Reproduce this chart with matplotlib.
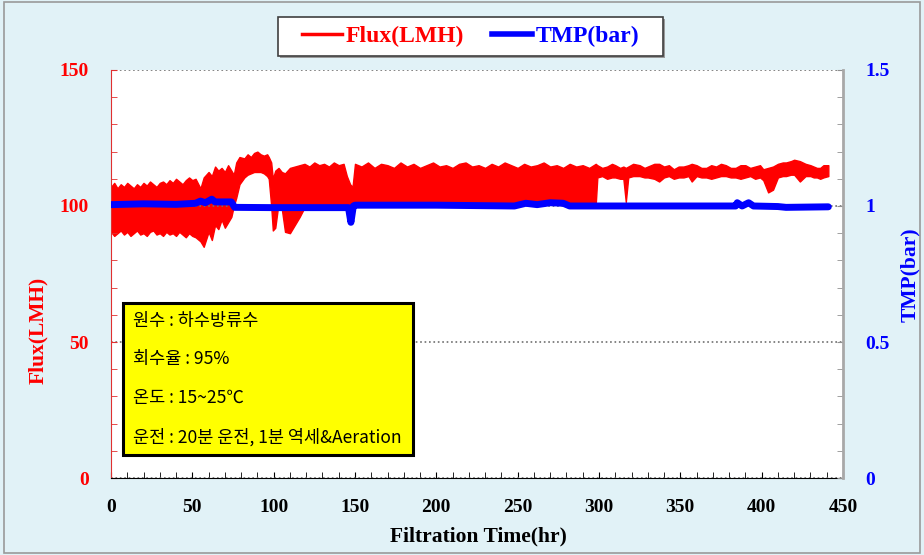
import matplotlib.pyplot as plt
from matplotlib.patches import Rectangle
from matplotlib.lines import Line2D
from matplotlib.ticker import MultipleLocator, FuncFormatter

# flux band (LMH): time, upper edge, lower edge
flux_t = ([0, 2, 4, 6, 8, 10, 12, 14, 16, 18, 20, 22, 24, 26, 28, 30, 32, 34, 36, 38, 40,
           42, 44, 46, 48, 50, 52]
          + [55, 57, 60, 62, 64, 66, 68, 70, 72, 74, 75.5]
          + [77, 79, 82, 84, 86, 88, 90, 92, 94, 96, 97, 98.5, 99.5, 101, 103, 105, 107, 110]
          + [113, 116, 119, 122, 125, 128, 131, 134, 137, 140, 143, 145, 147, 148.5]
          + [150, 154, 158, 162, 166, 170, 174, 178, 182, 186, 190, 194, 198, 202, 206, 210,
             214, 218, 222, 226, 230, 234, 238, 242, 246, 250, 254, 258, 262, 266, 270, 274,
             278, 282, 286, 290, 294, 298]
          + [299, 302, 305, 308, 310, 313, 315, 316.5, 318, 321, 325, 328, 330, 334, 337, 340,
             343, 346, 349, 352, 355, 357, 360, 363, 366, 369, 372, 375, 378, 381, 384, 387,
             390, 393, 396, 399, 401, 404, 407, 410, 413, 415, 418, 420, 423.5, 427, 430, 432,
             434, 436, 438, 441])
flux_hi = ([107, 108.5, 106.5, 108, 107, 108.5, 107.5, 106.5, 108, 107, 108.5, 107.5, 109,
            108, 107, 108.5, 109, 108, 109.5, 108.5, 110, 109, 108, 109.5, 110.5, 109.5, 110]
           + [106.5, 110.5, 112.5, 111, 114.5, 113, 114, 112.5, 115, 113, 111.5]
           + [116, 118, 117.5, 119, 118, 119.5, 120, 119, 118.5, 119, 118, 116, 110, 113, 114,
              112.5, 112, 114]
           + [114.5, 115, 115.5, 114.5, 116, 115, 115.5, 114.5, 116, 115, 115.5, 111, 108, 107]
           + [115.5, 114.5, 116, 114, 115.5, 115, 114, 116, 114.5, 115.5, 114, 115, 116, 114.5,
              115, 114, 115.5, 116, 114.5, 115, 114, 115.5, 114.5, 116, 115, 114, 115.5, 114.5,
              115, 116, 114.5, 115, 114, 115.5, 114.5, 115, 114, 115.5]
           + [115, 114, 114.5, 115.5, 115, 114, 114.5, 114, 114.5, 115.5, 115, 114, 114.5,
              115.5, 115.5, 114.5, 115, 113.5, 114.5, 114.5, 115, 115.5, 115, 114, 114, 115,
              114.5, 115.5, 115, 114, 114, 115, 115, 114, 114.5, 115, 113.5, 114, 114.5, 115.5,
              116, 116, 116.5, 117, 116.5, 115.5, 115, 114.5, 114, 114, 115, 115])
flux_lo = ([90.5, 89, 90, 91, 89.5, 90.5, 89, 90, 91, 89.5, 90, 89, 90.5, 91, 89.5, 90, 89,
            90.5, 89.5, 90, 89, 90.5, 89.5, 88.5, 90, 89, 88.5]
           + [87, 85, 90.5, 87.5, 93, 91.5, 95, 92, 94, 96, 100]
           + [103, 108, 110.5, 111.5, 112, 112.5, 112.5, 112.5, 112, 111, 110, 100, 91, 92, 101,
              99, 90.5, 90]
           + [93, 96, 99.5] + [100.5] * 11
           + [100.5] * 38
           + [110.5, 111, 110, 110.5, 110.5, 110, 110, 101.5, 110.5, 111, 111, 110.5, 110.5,
              110, 109, 110.5, 111, 110, 110.5, 110.5, 111, 109, 111, 110.5, 110.5, 110, 110.5,
              111, 111, 110.5, 110.5, 110, 110.5, 111, 110, 110.5, 109.5, 105, 106, 110.5, 111,
              111, 111.5, 111.5, 109, 111, 111, 110.5, 110.5, 110, 110.5, 111])

# TMP (bar)
tmp_t = [0, 20, 40, 52, 55, 58, 62, 64, 74, 76, 100, 146, 147.5, 149, 150, 200, 248, 255,
         262, 270, 278, 282, 384, 385, 388, 392, 395, 410, 415, 441]
tmp_v = [1.005, 1.008, 1.006, 1.01, 1.018, 1.012, 1.025, 1.015, 1.015, 0.995, 0.994, 0.994,
         0.94, 1.0, 1.003, 1.003, 1.0, 1.01, 1.005, 1.012, 1.01, 1.0, 1.0, 1.012, 1.0, 1.012,
         1.0, 0.998, 0.995, 0.997]

info_lines = ["원수 : 하수방류수", "회수율 : 95%", "온도 : 15~25℃", "운전 : 20분 운전, 1분 역세&Aeration"]

bg = "#E1F2F7"
serif = "Liberation Serif"
W, H = 924, 555

fig = plt.figure(figsize=(9.24, 5.55), dpi=100, facecolor=bg)
fig.patches.append(Rectangle((0.004, 0.004), 0.992, 0.992, transform=fig.transFigure,
                             facecolor="none", edgecolor="#9a9a9a", lw=1.2))
ax = fig.add_axes([0.1201, 0.1387, 0.7922, 0.7352])
ax.set_facecolor("white")
ax2 = ax.twinx()

ax.fill_between(flux_t, flux_lo, flux_hi, color="#FF0000", lw=1.0, edgecolor="#FF0000")
ax2.plot(tmp_t, tmp_v, color="#0000FF", lw=5, solid_capstyle="round")

ax.set_xlim(0, 450)
ax.set_ylim(0, 150)
ax2.set_ylim(0, 1.5)

ax.xaxis.set_major_locator(MultipleLocator(50))
ax.xaxis.set_minor_locator(MultipleLocator(10))
ax.yaxis.set_major_locator(MultipleLocator(50))
ax.yaxis.set_minor_locator(MultipleLocator(10))
ax2.yaxis.set_major_locator(MultipleLocator(0.5))
ax2.yaxis.set_minor_locator(MultipleLocator(0.1))
ax2.yaxis.set_major_formatter(FuncFormatter(lambda v, p: f"{v:g}"))

ax.grid(axis="y", which="major", color="#707070", ls=":", lw=1.2)

for a in (ax, ax2):
    a.spines["top"].set_visible(False)
ax.spines["left"].set_color("#E03030")
ax.spines["bottom"].set_color("black")
ax2.spines["right"].set_color("#A8A8A8")
ax2.spines["right"].set_linewidth(2)
ax2.spines["left"].set_visible(False)
ax2.spines["bottom"].set_visible(False)
ax.spines["right"].set_visible(False)

ax.tick_params(axis="x", which="both", direction="in", length=4, color="black", pad=15)
ax.tick_params(axis="y", which="both", direction="in", length=4, color="#E03030", pad=16,
               labelcolor="#FF0000")
ax2.tick_params(axis="y", which="both", direction="in", length=4, color="#909090", pad=16,
                labelcolor="#0000FF")
for lbl in ax.get_xticklabels() + ax.get_yticklabels() + ax2.get_yticklabels():
    lbl.set_fontfamily(serif)
    lbl.set_fontweight("bold")
    lbl.set_fontsize(14)

lab = dict(fontfamily=serif, fontweight="bold", fontsize=15.5, ha="center", va="center")
fig.text(478 / W, 1 - 536 / H, "Filtration Time(hr)", color="black", **lab)
fig.text(38 / W, 1 - 330 / H, "Flux(LMH)", color="#FF0000", rotation=90, **lab)
fig.text(910 / W, 1 - 275 / H, "TMP(bar)", color="#0000FF", rotation=90, **lab)

# yellow info box
ax2.add_patch(Rectangle((0.0164, 0.0564), 0.3962, 0.3726, transform=ax2.transAxes,
                        facecolor="#FFFF00", edgecolor="black", lw=2.2, zorder=5))
for line, yy in zip(info_lines, [0.385, 0.292, 0.196, 0.100]):
    ax2.text(0.0301, yy, line, transform=ax2.transAxes, va="center", ha="left",
             fontsize=12.6, family=["Noto Sans CJK KR", "DejaVu Sans"], zorder=6)

# legend box with a light shadow
fig.patches.append(Rectangle((280 / W, 1 - 58 / H), 385 / W, 39 / H, transform=fig.transFigure,
                             facecolor="#9a9a9a", edgecolor="none"))
fig.patches.append(Rectangle((278 / W, 1 - 56 / H), 385 / W, 39 / H, transform=fig.transFigure,
                             facecolor="white", edgecolor="#404040", lw=1.2))
handles = [Line2D([], [], color="#FF0000", lw=2.5), Line2D([], [], color="#0000FF", lw=4)]
leg = fig.legend(handles, ["Flux(LMH)", "TMP(bar)"], loc="center",
                 bbox_to_anchor=(470.5 / W, 1 - 36.5 / H), ncol=2, frameon=False,
                 handlelength=1.7, handletextpad=0.15, columnspacing=1.2, borderpad=0.2,
                 borderaxespad=0, prop={"family": serif, "weight": "bold", "size": 17})
for txt, col in zip(leg.get_texts(), ["#FF0000", "#0000FF"]):
    txt.set_color(col)

fig.savefig("out.png", dpi=100, facecolor=bg)
